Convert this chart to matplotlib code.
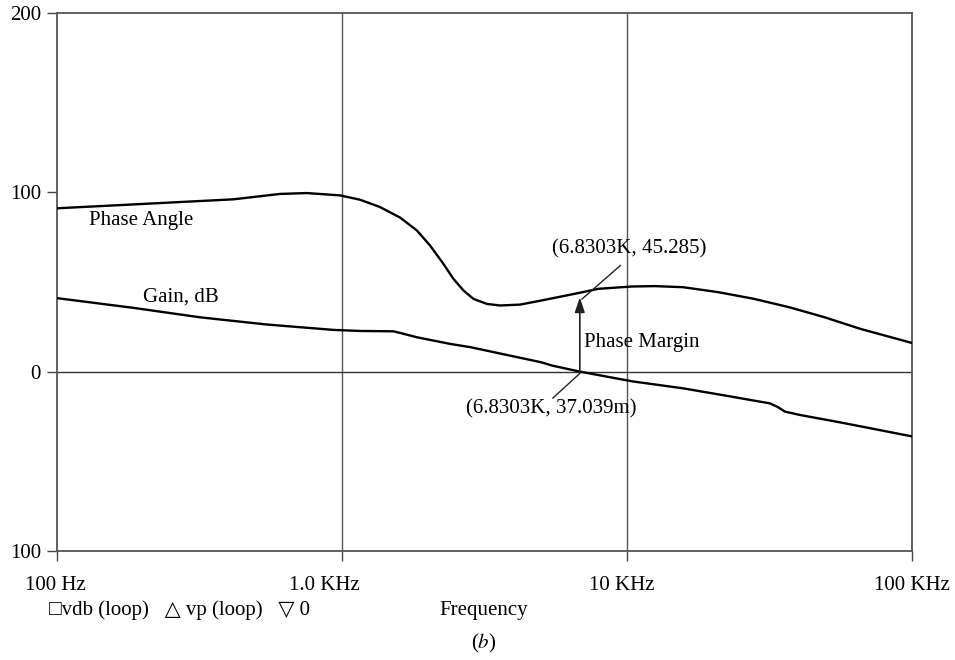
import matplotlib
matplotlib.use("Agg")
import matplotlib.pyplot as plt
from matplotlib.transforms import ScaledTranslation

# ---- data ----
phase_freq = [100, 416, 489, 606, 751, 984, 1156, 1359, 1600, 1829, 2036, 2267, 2459,
              2667, 2891, 3221, 3584, 4217, 5012, 6830.3, 7930, 10430, 12530, 15740,
              20960, 27900, 37150, 49430, 65790, 100000]
phase_deg = [91.1, 96.1, 97.4, 99.1, 99.6, 98.3, 95.9, 91.8, 85.9, 78.8, 70.4, 60.2, 51.8,
             45.3, 40.6, 37.8, 36.9, 37.4, 39.7, 44.0, 46.2, 47.5, 47.7, 47.1,
             44.3, 40.6, 35.9, 30.3, 23.9, 16.0]

gain_freq = [100, 185, 318, 544, 931, 1156, 1514, 1600, 1829, 2393, 2833, 5012, 5458,
             6830.3, 10430, 15740, 21180, 31770, 33970, 35840, 40600, 56100, 100000]
gain_db = [41.0, 35.6, 30.3, 26.3, 23.3, 22.7, 22.5, 21.6, 19.2, 15.5, 13.6, 5.2, 3.4,
           0.037039, -5.4, -9.3, -12.8, -17.7, -19.9, -22.3, -24.2, -28.3, -36.1]

pm_freq = 6830.3
pm_gain = 0.037039
pm_label_top = "(6.8303K, 45.285)"
pm_label_bottom = "(6.8303K, 37.039m)"

x_ticks = [100, 1000, 10000, 100000]
x_tick_labels = ["100 Hz", "1.0 KHz", "10 KHz", "100 KHz"]
y_ticks = [-100, 0, 100, 200]
y_tick_labels = ["100", "0", "100", "200"]

SERIF = ["Liberation Serif", "DejaVu Serif", "DejaVu Sans"]
plt.rcParams["font.family"] = SERIF
plt.rcParams["mathtext.fontset"] = "stix"

fig = plt.figure(figsize=(9.55, 6.6), dpi=100)
ax = fig.add_axes([57/955, (660-551)/660, (912-57)/955, (551-13)/660])

ax.set_xscale("log")
ax.set_xlim(100, 100000)
ax.set_ylim(-100, 200)

# grid lines
for xv in x_ticks[1:-1]:
    ax.axvline(xv, color="#555555", lw=1.0, zorder=1)
ax.axhline(0, color="#333333", lw=1.0, zorder=1)

ax.plot(phase_freq, phase_deg, color="black", lw=1.7, zorder=3, solid_joinstyle="round")
ax.plot(gain_freq, gain_db, color="black", lw=1.7, zorder=3, solid_joinstyle="round")

ax.set_xticks(x_ticks)
ax.set_xticklabels(x_tick_labels)
ax.xaxis.set_minor_locator(matplotlib.ticker.NullLocator())
ax.set_yticks(y_ticks)
ax.set_yticklabels(y_tick_labels)
ax.tick_params(axis="y", length=7.5, width=1.0, color="#444444", pad=4, labelsize=15)
ax.tick_params(axis="x", length=7, width=1.0, color="#444444", pad=11, labelsize=15)
for s in ax.spines.values():
    s.set_color("#555555")
    s.set_linewidth(1.3)

# small horizontal shifts of the x tick labels as in the reference
shifts_px = [-2, -18, -5, 0]
for lab, dx in zip(ax.get_xticklabels(), shifts_px):
    lab.set_transform(lab.get_transform() + ScaledTranslation(dx / 100, 0, fig.dpi_scale_trans))

# curve labels
ax.text(129.5, 84.5, "Phase Angle", fontsize=15, ha="left", va="center")
ax.text(200, 41.5, "Gain, dB", fontsize=15, ha="left", va="center")

# phase margin arrow
ax.annotate("", xy=(pm_freq, 41.5), xytext=(pm_freq, pm_gain),
            arrowprops=dict(arrowstyle="-|>,head_length=0.9,head_width=0.3",
                            color="#222222", lw=1.2, shrinkA=0, shrinkB=0), zorder=4)
ax.text(7063, 16.4, "Phase Margin", fontsize=15, ha="left", va="center")

# leader lines and value labels
ax.plot([9480, 6950], [59.2, 40.5], color="#222222", lw=1.0, zorder=4)
ax.text(10160, 68.3, pm_label_top, fontsize=15, ha="center", va="center")
ax.plot([5495, pm_freq], [-14.7, -1.0], color="#222222", lw=1.0, zorder=4)
ax.text(5410, -20.7, pm_label_bottom, fontsize=15, ha="center", va="center")

# bottom texts
fig.text(49/955, 1 - 610/660, "\u25a1vdb (loop)   \u25b3 vp (loop)   \u25bd 0",
         fontsize=15, ha="left", va="center", family=["Liberation Serif", "DejaVu Sans"])
fig.text(484/955, 1 - 610/660, "Frequency", fontsize=15, ha="center", va="center")
fig.text(484/955, 1 - 643/660, "($\\mathit{b}$)", fontsize=15, ha="center", va="center")

fig.savefig("out.png", dpi=100, facecolor="white")
